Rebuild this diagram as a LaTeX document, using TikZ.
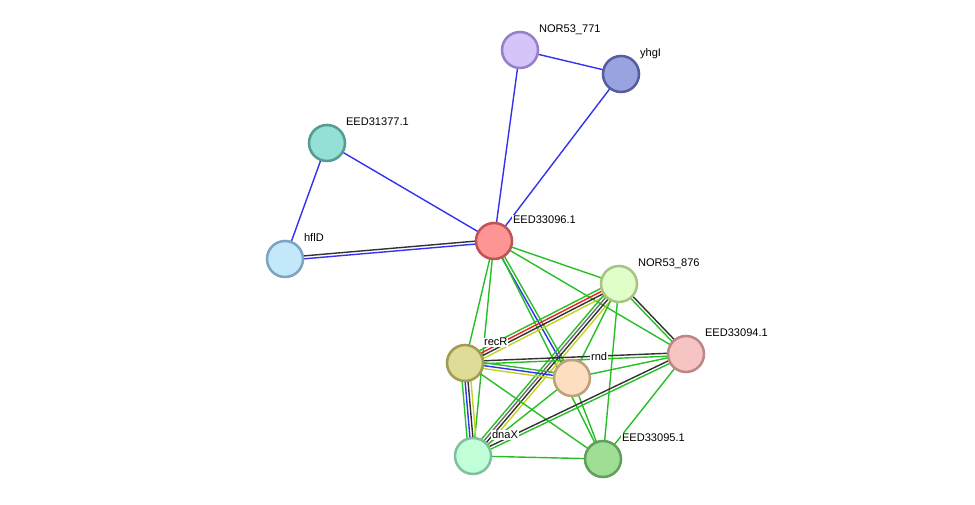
\documentclass[tikz,border=0pt]{standalone}
\usepackage{fontspec}
\setmainfont{Liberation Sans}
\usetikzlibrary{calc}
\pgfdeclarelayer{bg}
\pgfsetlayers{bg,main}
\definecolor{sgreen}{RGB}{40,190,40}
\definecolor{sblue}{RGB}{50,50,240}
\definecolor{sblack}{RGB}{50,50,50}
\definecolor{sgray}{RGB}{110,110,110}
\definecolor{syellow}{RGB}{195,210,30}
\definecolor{sred}{RGB}{240,30,30}
\tikzset{
  prot/.style={circle,minimum size=27pt,inner sep=0pt,line width=1.9pt},
  lab/.style={anchor=base west,inner sep=0.6pt,fill=white,font=\fontsize{8.3pt}{9pt}\selectfont,text=black},
  edge/.style={line width=1.05pt},
}
\newcommand\medge[4]{%
  \foreach \c [count=\i] in {#4}{%
    \pgfmathsetmacro\off{((#3+1)/2-\i)*2.2}%
    \draw[edge,draw=\c] ($(#1)!\off pt!90:(#2)$) -- ($(#2)!\off pt!-90:(#1)$);
  }%
}
\begin{document}
\begin{tikzpicture}[x=0.75pt,y=-0.75pt]
\useasboundingbox (0,0) rectangle (975,505);
% nodes
\node[prot,fill={rgb,255:red,212;green,196;blue,250},draw={rgb,255:red,150;green,128;blue,200}] (n771) at (520,50) {};
\node[prot,fill={rgb,255:red,153;green,163;blue,224},draw={rgb,255:red,85;green,95;blue,160}] (yhgI) at (621,74) {};
\node[prot,fill={rgb,255:red,148;green,224;blue,214},draw={rgb,255:red,85;green,155;blue,145}] (e377) at (327,143) {};
\node[prot,fill={rgb,255:red,194;green,232;blue,250},draw={rgb,255:red,125;green,165;blue,195}] (hflD) at (285,259) {};
\node[prot,fill={rgb,255:red,255;green,148;blue,148},draw={rgb,255:red,190;green,85;blue,85}] (e096) at (494,241) {};
\node[prot,fill={rgb,255:red,224;green,255;blue,200},draw={rgb,255:red,168;green,196;blue,130}] (n876) at (619,284) {};
\node[prot,fill={rgb,255:red,247;green,196;blue,196},draw={rgb,255:red,190;green,135;blue,135}] (e094) at (686,354) {};
\node[prot,fill={rgb,255:red,222;green,220;blue,150},draw={rgb,255:red,160;green,155;blue,85}] (recR) at (465,363) {};
\node[prot,fill={rgb,255:red,253;green,222;blue,192},draw={rgb,255:red,190;green,160;blue,125}] (rnd) at (572,378) {};
\node[prot,fill={rgb,255:red,192;green,255;blue,216},draw={rgb,255:red,128;green,192;blue,160}] (dnaX) at (473,456) {};
\node[prot,fill={rgb,255:red,160;green,222;blue,150},draw={rgb,255:red,95;green,160;blue,90}] (e095) at (603,459) {};
% labels
\node[lab] (l771) at ($(n771)+(18,-17)$) {NOR53\_771};
\node[lab] (lyhgI) at ($(yhgI)+(18,-17)$) {yhgI};
\node[lab] (l377) at ($(e377)+(18,-17)$) {EED31377.1};
\node[lab] (lhflD) at ($(hflD)+(18,-17)$) {hflD};
\node[lab] (l096) at ($(e096)+(18,-17)$) {EED33096.1};
\node[lab] (l876) at ($(n876)+(18,-17)$) {NOR53\_876};
\node[lab] (l094) at ($(e094)+(18,-17)$) {EED33094.1};
\node[lab] (lrecR) at ($(recR)+(18,-17)$) {recR};
\node[lab] (lrnd) at ($(rnd)+(18,-17)$) {rnd};
\node[lab] (ldnaX) at ($(dnaX)+(18,-17)$) {dnaX};
\node[lab] (l095) at ($(e095)+(18,-17)$) {EED33095.1};
% edges
\begin{pgfonlayer}{bg}
\medge{n771}{yhgI}{1}{sblue}
\medge{n771}{e096}{1}{sblue}
\medge{yhgI}{e096}{1}{sblue}
\medge{e377}{hflD}{1}{sblue}
\medge{e377}{e096}{1}{sblue}
\medge{hflD}{e096}{2}{sblack,sblue}
\medge{e096}{n876}{1}{sgreen}
\medge{e096}{e094}{1}{sgreen}
\medge{e096}{recR}{1}{sgreen}
\medge{e096}{dnaX}{1}{sgreen}
\medge{e096}{rnd}{2}{sgreen,sblue}
\medge{e096}{e095}{1}{sgreen}
\medge{n876}{recR}{4}{syellow,sblack,sred,sgreen}
\medge{n876}{dnaX}{4}{syellow,sblack,sgray,sgreen}
\medge{n876}{rnd}{1}{sgreen}
\medge{n876}{e094}{2}{sblack,sgreen}
\medge{n876}{e095}{1}{sgreen}
\medge{recR}{rnd}{3}{sgreen,sblue,syellow}
\medge{recR}{e094}{2}{sblack,sgreen}
\medge{recR}{dnaX}{4}{syellow,sblack,sblue,sgreen}
\medge{recR}{e095}{1}{sgreen}
\medge{rnd}{e094}{1}{sgreen}
\medge{rnd}{dnaX}{1}{sgreen}
\medge{rnd}{e095}{1}{sgreen}
\medge{dnaX}{e094}{2}{sblack,sgreen}
\medge{dnaX}{e095}{1}{sgreen}
\medge{e094}{e095}{1}{sgreen}
\end{pgfonlayer}
\end{tikzpicture}
\end{document}
